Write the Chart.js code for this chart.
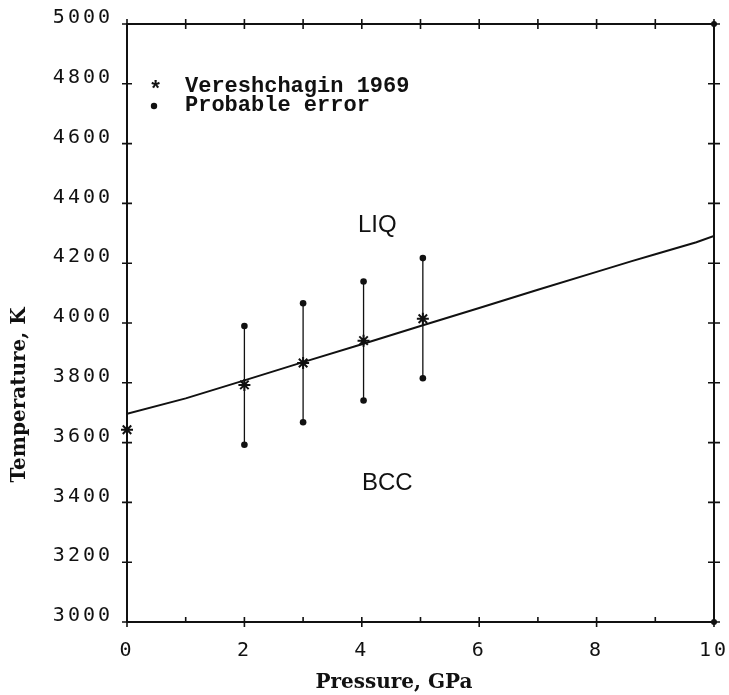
<!DOCTYPE html>
<html>
<head>
<meta charset="utf-8">
<script src="https://cdn.jsdelivr.net/npm/chart.js@4.4.0/dist/chart.umd.min.js"></script>
<style>
  html, body { margin: 0; padding: 0; background: #ffffff; }
  #wrap { width: 729px; height: 695px; }
</style>
</head>
<body>
<div id="wrap"><canvas id="c" width="729" height="695"></canvas></div>
<script>
// Melting curve (BCC / liquid boundary)
const curvePressure    = [0, 1, 2, 3, 4, 5, 6, 7, 8, 8.6, 9, 9.7, 10];
const curveTemperature = [3696, 3748, 3808, 3869, 3929, 3990, 4050, 4111, 4171, 4207, 4230, 4270, 4291];

// Vereshchagin 1969 measurements
const vereshPressure    = [0, 2, 3, 4.03, 5.04];
const vereshTemperature = [3643, 3793, 3866, 3941, 4014];

// Probable error limits of the measurements
const errPressure = [2, 3, 4.03, 5.04];
const errLow      = [3593, 3668, 3741, 3815];
const errHigh     = [3990, 4066, 4139, 4217];

// Axes
const xTicks      = [0, 1, 2, 3, 4, 5, 6, 7, 8, 9, 10];
const xTickLabels = ['0', '', '2', '', '4', '', '6', '', '8', '', '10'];
const yTicks      = [3000, 3200, 3400, 3600, 3800, 4000, 4200, 4400, 4600, 4800, 5000];
const yTickLabels = ['3000', '3200', '3400', '3600', '3800', '4000', '4200', '4400', '4600', '4800', '5000'];
const xAxisTitle  = 'Pressure, GPa';
const yAxisTitle  = 'Temperature, K';

// Legend entries and phase-field names
const legendLabels = ['Vereshchagin 1969', 'Probable error'];
const phaseNames   = ['LIQ', 'BCC'];
const phaseAnchor  = { x: [4.265, 4.435], y: [4304, 3442] };

const INK = '#111111';

const errorData = errPressure.flatMap((p, i) => [
  { x: p, y: errLow[i] },
  { x: p, y: errHigh[i] },
  { x: p, y: null }
]);

// Frame, crossing tick marks, titles, legend and phase labels
const decorations = {
  id: 'decorations',
  beforeDraw(chart) {
    chart.ctx.letterSpacing = '3px';
  },
  beforeDatasetsDraw(chart) {
    const ctx = chart.ctx;
    ctx.letterSpacing = '0px';
    const { left, right, top, bottom } = chart.chartArea;
    const xs = chart.scales.x, ys = chart.scales.y;
    ctx.save();
    ctx.strokeStyle = INK;
    ctx.lineWidth = 2;
    ctx.strokeRect(left, top, right - left, bottom - top);
    ctx.lineWidth = 1.6;
    ctx.beginPath();
    xTicks.forEach((v, i) => {
      const px = xs.getPixelForValue(v);
      const major = i % 2 === 0;
      ctx.moveTo(px, bottom - 5);
      ctx.lineTo(px, major ? bottom + 5 : bottom);
      ctx.moveTo(px, top - 5);
      ctx.lineTo(px, top + 5);
    });
    yTicks.forEach(v => {
      const py = ys.getPixelForValue(v);
      ctx.moveTo(left - 5, py);
      ctx.lineTo(left + 5, py);
      ctx.moveTo(right - 6, py);
      ctx.lineTo(right + 6, py);
    });
    ctx.stroke();
    ctx.fillStyle = INK;
    [[right, top], [right, bottom]].forEach(([cx, cy]) => {
      ctx.beginPath();
      ctx.arc(cx, cy, 3, 0, Math.PI * 2);
      ctx.fill();
    });
    ctx.restore();
  },
  afterDraw(chart) {
    const ctx = chart.ctx;
    const xs = chart.scales.x, ys = chart.scales.y;
    ctx.save();
    ctx.letterSpacing = '0px';
    ctx.fillStyle = INK;

    // axis titles
    ctx.font = 'bold 20px "DejaVu Serif"';
    ctx.textAlign = 'center';
    ctx.textBaseline = 'alphabetic';
    ctx.fillText(xAxisTitle, 394, 688);
    ctx.save();
    ctx.translate(25, 395);
    ctx.rotate(-Math.PI / 2);
    ctx.fillText(yAxisTitle, 0, 0);
    ctx.restore();

    // legend
    ctx.font = 'bold 22px "Liberation Mono"';
    ctx.textAlign = 'left';
    ctx.fillText('*', 149, 96);
    ctx.fillText(legendLabels[0], 185, 92);
    ctx.beginPath();
    ctx.arc(154, 106, 3.2, 0, Math.PI * 2);
    ctx.fill();
    ctx.fillText(legendLabels[1], 185, 111);

    // phase fields
    ctx.font = '24px "Liberation Sans"';
    ctx.textAlign = 'center';
    phaseNames.forEach((name, i) => {
      ctx.fillText(name, xs.getPixelForValue(phaseAnchor.x[i]), ys.getPixelForValue(phaseAnchor.y[i]));
    });
    ctx.restore();
  }
};

new Chart(document.getElementById('c'), {
  type: 'line',
  data: {
    datasets: [
      {
        label: 'Melting curve',
        data: curvePressure.map((p, i) => ({ x: p, y: curveTemperature[i] })),
        borderColor: INK,
        borderWidth: 2,
        pointRadius: 0,
        tension: 0,
        fill: false
      },
      {
        label: legendLabels[1],
        data: errorData,
        borderColor: INK,
        borderWidth: 1.3,
        pointRadius: 3.3,
        pointBackgroundColor: INK,
        pointBorderColor: INK,
        pointBorderWidth: 0,
        spanGaps: false,
        fill: false
      },
      {
        label: legendLabels[0],
        data: vereshPressure.map((p, i) => ({ x: p, y: vereshTemperature[i] })),
        showLine: false,
        pointStyle: 'star',
        pointRadius: 6,
        pointBorderWidth: 2,
        pointBorderColor: INK,
        pointBackgroundColor: INK,
        clip: false
      }
    ]
  },
  options: {
    responsive: false,
    animation: false,
    devicePixelRatio: 1,
    layout: { padding: { top: 24, right: 15, left: 0, bottom: 0 } },
    plugins: { legend: { display: false }, tooltip: { enabled: false }, title: { display: false } },
    scales: {
      x: {
        type: 'linear',
        position: 'bottom',
        min: 0,
        max: 10,
        afterBuildTicks: s => { s.ticks = xTicks.map(v => ({ value: v })); },
        afterFit: s => { s.height = 73; s.paddingLeft = 0; s.paddingRight = 0; },
        grid: { display: false, drawTicks: false },
        border: { display: false },
        ticks: {
          autoSkip: false,
          maxRotation: 0,
          padding: 17,
          color: INK,
          font: { family: '"DejaVu Sans Mono"', size: 20 },
          callback: (v, i) => xTickLabels[i]
        }
      },
      y: {
        type: 'linear',
        position: 'left',
        min: 3000,
        max: 5000,
        afterBuildTicks: s => { s.ticks = yTicks.map(v => ({ value: v })); },
        afterFit: s => { s.width = 127; s.paddingTop = 0; s.paddingBottom = 0; },
        grid: { display: false, drawTicks: false },
        border: { display: false },
        ticks: {
          autoSkip: false,
          padding: 14,
          labelOffset: -6,
          color: INK,
          font: { family: '"DejaVu Sans Mono"', size: 20 },
          callback: (v, i) => yTickLabels[i]
        }
      }
    }
  },
  plugins: [decorations]
});
</script>
</body>
</html>
